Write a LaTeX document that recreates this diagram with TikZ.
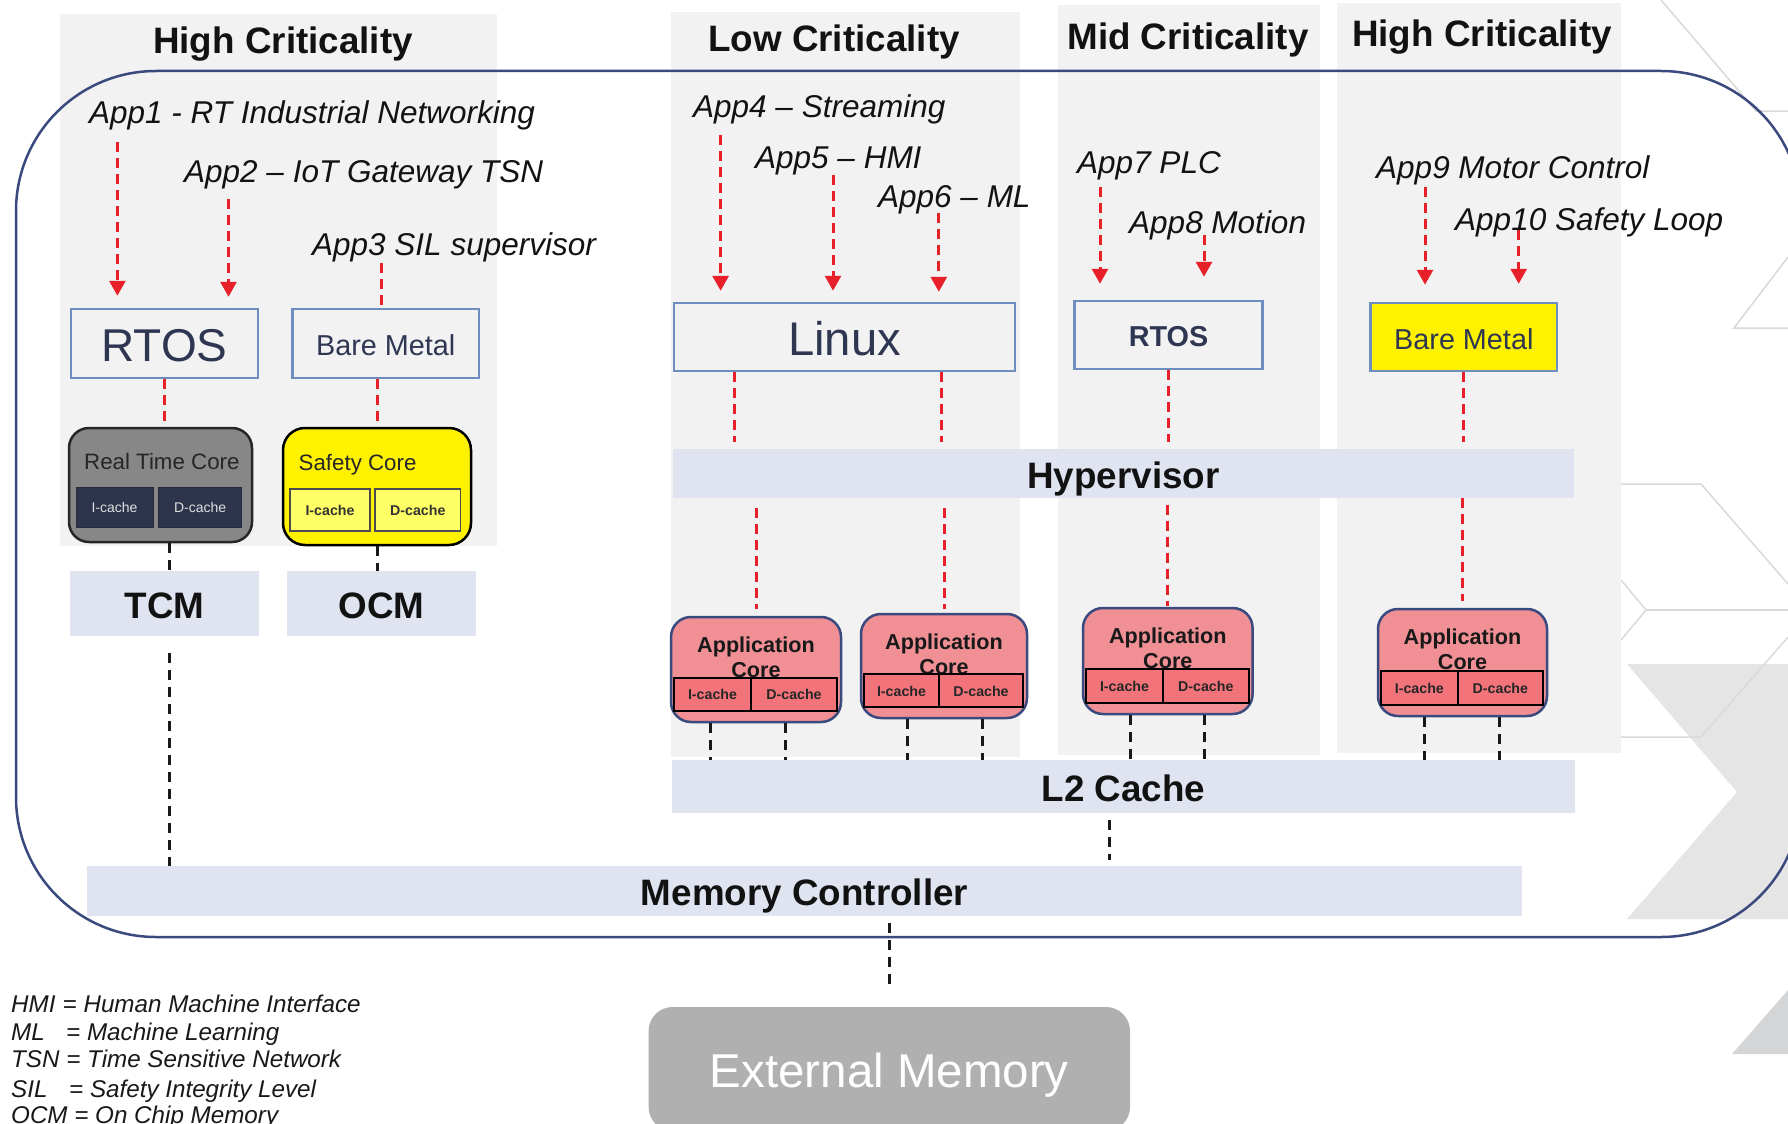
\documentclass[tikz,border=0pt]{standalone}
\usepackage{fontspec}
\setmainfont{Liberation Sans}
\usetikzlibrary{arrows.meta}

\definecolor{panelgray}{HTML}{F2F2F2}
\definecolor{barfill}{HTML}{E0E4F0}
\definecolor{osblue}{HTML}{6D8EBF}
\definecolor{osnavy}{HTML}{2E3652}
\definecolor{linkred}{HTML}{E8202A}
\definecolor{frameblue}{HTML}{3A4A7E}
\definecolor{rtgray}{HTML}{878787}
\definecolor{rtcell}{HTML}{2E344B}
\definecolor{sfcell}{HTML}{FFFF66}
\definecolor{corepink}{HTML}{F09095}
\definecolor{cellpink}{HTML}{F2747A}
\definecolor{extgray}{HTML}{B0B0B0}
\definecolor{decofill}{HTML}{E5E5E5}
\definecolor{decofilldark}{HTML}{D3D5D6}
\definecolor{decoline}{HTML}{D9D9D9}

\begin{document}
\begin{tikzpicture}[x=1pt, y=-1pt,
  % a rectangular node spanning the corners (#1,#2) and (#3,#4)
  corners/.style n args={4}{at={({((#1)+(#3))/2},{((#2)+(#4))/2})},
    minimum width={(#3)-(#1)}, minimum height={(#4)-(#2)}},
  ttl/.style={inner sep=0pt, anchor=base, font=\fontsize{36.8}{40}\selectfont\bfseries, text=black!93},
  app/.style={inner sep=0pt, anchor=base west, font=\fontsize{31.5}{36}\selectfont\itshape, text=black!93},
  osbox/.style={draw=osblue, line width=2.5pt, inner sep=0pt, text=osnavy, text depth=0pt},
  bar/.style={fill=barfill, inner sep=0pt, font=\fontsize{36.8}{40}\selectfont\bfseries, text=black!93, text height=29.5pt, text depth=0pt},
  reddash/.style={draw=linkred, line width=3pt, dash pattern=on 10pt off 6pt},
  redarrow/.style={reddash, -{Triangle[width=16pt,length=15pt]}},
  blackdash/.style={draw=black!90, line width=3pt, dash pattern=on 10pt off 7pt},
  corelabel/.style={inner sep=0pt, anchor=base west, font=\fontsize{22.3}{26}\selectfont, text=black!85},
  rtbody/.style={draw=black!85, line width=2.5pt, fill=rtgray, rounded corners=20pt, inner sep=0pt},
  rtcache/.style={fill=rtcell, draw=rtcell!80!black, line width=1pt, inner sep=0pt, text=white!88!black, font=\fontsize{14}{16}\selectfont, text height=11pt, text depth=0pt},
  sfbody/.style={draw=black, line width=2.5pt, fill=yellow, rounded corners=22pt, inner sep=0pt},
  sfcache/.style={fill=sfcell, draw=black!70, line width=1.5pt, inner sep=0pt, text=black!80, font=\fontsize{14.2}{16}\selectfont\bfseries, text height=11pt, text depth=0pt},
  appbody/.style={draw=frameblue, line width=2.5pt, fill=corepink, rounded corners=20pt, inner sep=0pt},
  appcache/.style={fill=cellpink, draw=black, line width=2pt, inner sep=0pt, text=black!85, font=\fontsize{14.2}{16}\selectfont\bfseries, text height=11pt, text depth=0pt},
  apptitle/.style={inner sep=0pt, anchor=base, font=\fontsize{21.6}{24}\selectfont\bfseries, text=black!90},
  legend/.style={inner sep=0pt, anchor=base west, font=\fontsize{24.2}{26}\selectfont\itshape, text=black!90},
  extbox/.style={fill=extgray, rounded corners=24pt, inner sep=0pt, text=white, font=\fontsize{47.5}{52}\selectfont, text height=37pt, text depth=0pt},
  decoline/.style={draw=decoline, line width=1.5pt}
]
\useasboundingbox (0,0) rectangle (1788,1124);
\clip (0,0) rectangle (1788,1124);
\fill[white] (0,0) rectangle (1788,1124);

% background ornament on the right
\fill[decofill] (1627,664) -- (1788,664) -- (1788,919) -- (1627,919) -- (1737,792) -- cycle;
\fill[decofilldark] (1732,1054) -- (1788,990) -- (1788,1054) -- cycle;
\draw[decoline] (1661,0) -- (1756,111) -- (1788,111);
\draw[decoline] (1788,257) -- (1734,328) -- (1788,328);
\draw[decoline] (1621,484) -- (1701,484) -- (1788,584);
\draw[decoline] (1621,580) -- (1646,610) -- (1621,640);
\draw[decoline] (1646,610) -- (1788,610);
\draw[decoline] (1788,637) -- (1701,737) -- (1621,737);

% criticality columns
\fill[panelgray] (60,14) rectangle (497,546);
\fill[panelgray] (671,12) rectangle (1020,757);
\fill[panelgray] (1058,5) rectangle (1320,755);
\fill[panelgray] (1337,3) rectangle (1621,753);

% SoC outline
\draw[frameblue, line width=2.5pt, rounded corners=140pt] (16,71) rectangle (1801,937);

% column titles
\node[ttl] (t1) at (283,53) {High Criticality};
\node[ttl] (t2) at (834,52) {Low Criticality};
\node[ttl] (t3) at (1188,49) {Mid Criticality};
\node[ttl] (t4) at (1482,47) {High Criticality};

% applications
\node[app] (app1) at (89,123) {App1 - RT Industrial Networking};
\node[app] (app2) at (184,182) {App2 – IoT Gateway TSN};
\node[app] (app3) at (312,255) {App3 SIL supervisor};
\node[app] (app4) at (693,117) {App4 – Streaming};
\node[app] (app5) at (755,168) {App5 – HMI};
\node[app] (app6) at (878,207) {App6 – ML};
\node[app] (app7) at (1077,173) {App7 PLC};
\node[app] (app8) at (1129,233) {App8 Motion};
\node[app] (app9) at (1376,178) {App9 Motor Control};
\node[app] (app10) at (1455,230) {App10 Safety Loop};

% operating systems
\node[osbox, corners={71}{309}{258}{378}, font=\fontsize{46}{50}\selectfont, text height=35pt] (rtosL) {RTOS};
\node[osbox, corners={292.6}{309}{479}{378}, font=\fontsize{28.8}{32}\selectfont, text height=23pt] (bmL) {Bare Metal};
\node[osbox, corners={674}{303}{1015}{371}, font=\fontsize{47.2}{52}\selectfont, text height=36.5pt] (linux) {Linux};
\node[osbox, corners={1074.6}{301}{1262.6}{369}, font=\fontsize{28.8}{32}\selectfont\bfseries, text height=23.5pt] (rtosM) {RTOS};
\node[osbox, fill=yellow, corners={1370.6}{303}{1557}{371}, font=\fontsize{28.8}{32}\selectfont, text height=24pt] (bmR) {Bare Metal};

% application to OS arrows
\foreach \ax/\ay/\os/\gap in {117.4/142/rtosL/12, 228.5/199/rtosL/11,
    720.6/135/linux/11, 833/175/linux/11, 938.8/213/linux/10,
    1100/187/rtosM/16, 1204/235/rtosM/23,
    1425/187/bmR/17, 1518.7/230/bmR/18}
  \draw[redarrow, shorten >=\gap pt] (\ax,\ay) -- (\ax,\ay |- \os.north);
\draw[reddash] (381,263) -- (381,263 |- bmL.north);

% real-time and safety cores
\node[rtbody, corners={69}{428}{252}{542}] (rtcore) {};
\node[corelabel] (rtlbl) at (84,469) {Real Time Core};
\node[rtcache, corners={76}{487}{153}{527}] (rtic) {I-cache};
\node[rtcache, corners={158.6}{487}{241.6}{527}] (rtdc) {D-cache};

\node[sfbody, corners={283}{428}{471}{545}] (sfcore) {};
\node[corelabel] (sflbl) at (298.5,470) {Safety Core};
\node[sfcache, corners={290}{489}{370}{531}] (sfic) {I-cache};
\node[sfcache, corners={375}{489}{460.6}{531}] (sfdc) {D-cache};

% tightly coupled and on-chip memories
\node[bar, corners={70}{571}{259}{636}] (tcm) {TCM};
\node[bar, corners={287}{571}{475.7}{636}] (ocm) {OCM};

% hypervisor, L2 cache, memory controller
\node[bar, corners={673}{449}{1574}{498}] (hyp) {Hypervisor};
\node[bar, corners={672}{760}{1575}{813}] (l2) {L2 Cache};
\node[bar, corners={87}{866}{1522}{916}] (mc) {Memory Controller};

% application cores
\foreach \cid/\xl/\yt/\xr/\yb/\ryt/\ryb/\xd in {
    1/671/617/841/722/677.7/711/751,
    2/861/614/1027/718/674/707/939,
    3/1083/608/1252.6/714/669/703/1163,
    4/1378/609/1547/716/671/705/1457.7}{
  \node[appbody, corners={\xl}{\yt}{\xr}{\yb}] (core\cid) {};
  \node[apptitle] (cta\cid) at ({(\xl+\xr)/2},\yt+35) {Application};
  \node[apptitle] (ctb\cid) at ({(\xl+\xr)/2},\yt+60) {Core};
  \node[appcache, corners={\xl+3}{\ryt}{\xd}{\ryb}] (ic\cid) {I-cache};
  \node[appcache, corners={\xd}{\ryt}{\xr-4}{\ryb}] (dc\cid) {D-cache};
}

% external memory
\node[extbox, corners={648.6}{1007}{1130}{1131}] (ext) {External Memory};

% OS to core links
\draw[reddash] (rtosL.south) -- (rtosL.south |- rtcore.north);
\draw[reddash] (sfcore.north |- bmL.south) -- (sfcore.north);
\draw[reddash, shorten >=7pt] (linux.south -| 734,0) -- (hyp.north -| 734,0);
\draw[reddash, shorten >=7pt] (linux.south -| 941.5,0) -- (hyp.north -| 941.5,0);
\draw[reddash, shorten >=7pt] (rtosM.south) -- (rtosM.south |- hyp.north);
\draw[reddash, shorten >=7pt] (bmR.south) -- (bmR.south |- hyp.north);
\foreach \cid/\sa/\sb in {1/10/7, 2/10/4, 3/7/1, 4/0/7}
  \draw[reddash, shorten <=\sa pt, shorten >=\sb pt] (core\cid.north |- hyp.south) -- (core\cid.north);

% memory links
\draw[blackdash] (rtcore.south -| 169,0) -- (tcm.north -| 169,0);
\draw[blackdash] (sfcore.south) -- (sfcore.south |- ocm.north);
\draw[blackdash, shorten <=17pt] (tcm.south -| 169,0) -- (mc.north -| 169,0);
\foreach \cid/\pa/\pb in {1/710.7/785, 2/907.8/982, 3/1130.5/1204.7, 4/1424.8/1499.4}{
  \draw[blackdash] (core\cid.south -| \pa,0) -- (l2.north -| \pa,0);
  \draw[blackdash] (core\cid.south -| \pb,0) -- (l2.north -| \pb,0);
}
\draw[blackdash, shorten <=7pt, shorten >=6pt] (l2.south -| 1109,0) -- (mc.north -| 1109,0);
\draw[blackdash, shorten <=7pt, shorten >=17pt] (mc.south -| ext.north) -- (ext.north);

% abbreviations
\node[legend] (lg1) at (11,1012) {\makebox[51.5pt][l]{HMI}= Human Machine Interface};
\node[legend] (lg2) at (11,1040) {\makebox[55pt][l]{ML}= Machine Learning};
\node[legend] (lg3) at (11,1067) {TSN = Time Sensitive Network};
\node[legend] (lg4) at (11,1097) {\makebox[58pt][l]{SIL}= Safety Integrity Level};
\node[legend] (lg5) at (11,1123) {OCM = On Chip Memory};
\end{tikzpicture}
\end{document}
